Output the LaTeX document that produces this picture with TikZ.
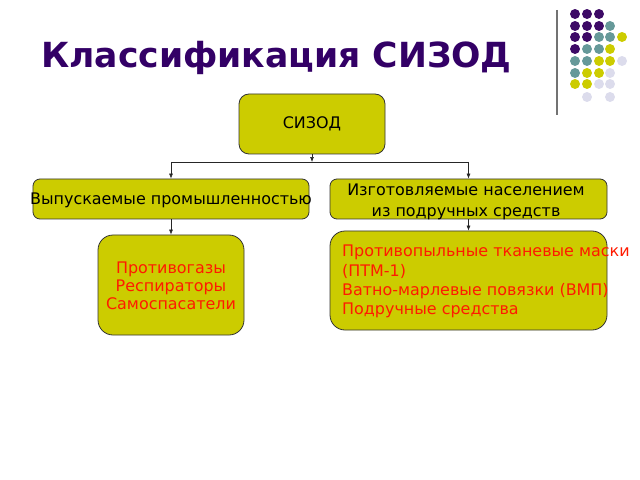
\documentclass[tikz,border=0pt]{standalone}
\usepackage{fontspec}
\setmainfont{DejaVu Sans}
\usetikzlibrary{arrows.meta}
\definecolor{ttl}{HTML}{330066}
\definecolor{boxy}{HTML}{CCCC00}
\definecolor{dpurple}{HTML}{3D0A66}
\definecolor{dteal}{HTML}{669999}
\definecolor{dyel}{HTML}{CCCC00}
\definecolor{dlav}{HTML}{DCDCEC}
\definecolor{redtxt}{HTML}{FF1A00}
\tikzset{
  box/.style={draw=black!80, line width=0.8pt, fill=boxy, inner sep=0pt},
  txt/.style={font=\fontsize{16}{19.3}\selectfont, inner sep=0pt},
  conn/.style={line width=0.6pt, draw=black!85, -{Latex[length=5pt,width=4pt]}},
  plain/.style={line width=0.6pt, draw=black!85},
  dot/.style={circle, minimum size=10pt, inner sep=0pt}
}
\begin{document}
\begin{tikzpicture}[x=1bp,y=-1bp]
\useasboundingbox (0,0) rectangle (640,480);
% title
\node[anchor=west, text=ttl, font=\bfseries\fontsize{34.7}{38}\selectfont, inner sep=0pt] (title) at (41,58) {Классификация СИЗОД};
% decoration
\draw[line width=1.2pt, draw=black!55] (557,10) coordinate (vl1) -- (557,115) coordinate (vl2);
\foreach \x/\y/\c [count=\i] in {
575/14/dpurple,587/14/dpurple,599/14/dpurple,
575/26/dpurple,587/26/dpurple,599/26/dpurple,610/26/dteal,
575/37/dpurple,587/37/dpurple,599/37/dteal,610/37/dteal,622/37/dyel,
575/49/dpurple,587/49/dteal,599/49/dteal,610/49/dyel,
575/61/dteal,587/61/dteal,599/61/dyel,610/61/dyel,622/61/dlav,
575/73/dteal,587/73/dyel,599/73/dyel,610/73/dlav,
575/84/dyel,587/84/dyel,599/84/dlav,610/84/dlav,
587/97/dlav,610/97/dlav}
  \node[dot, fill=\c] (d\i) at (\x,\y) {};
% boxes
\node[box, rounded corners=10bp, minimum width=146bp, minimum height=60bp] (root) at (312,124) {};
\node[txt] (roottxt) at (root.center) {СИЗОД};
\node[box, rounded corners=7bp, minimum width=276bp, minimum height=40bp] (ind) at (171,199) {};
\node[txt] (indtxt) at (171,200) {Выпускаемые промышленностью};
\node[box, rounded corners=7bp, minimum width=277bp, minimum height=40bp] (pop) at (468.5,199) {};
\node[txt, align=center, font=\fontsize{16}{21}\selectfont] (poptxt) at (466,202) {Изготовляемые населением\\из подручных средств};
\node[box, rounded corners=15bp, minimum width=146bp, minimum height=100bp] (gas) at (171,285) {};
\node[txt, align=center, text=redtxt, font=\fontsize{16}{18.2}\selectfont] (gastxt) at (171,286) {Противогазы\\Респираторы\\Самоспасатели};
\node[box, rounded corners=15bp, minimum width=277bp, minimum height=99bp] (mask) at (468.5,280.5) {};
\node[txt, align=left, text=redtxt, anchor=west] (masktxt) at (342,281.5) {Противопыльные тканевые маски\\(ПТМ-1)\\Ватно-марлевые повязки (ВМП)\\Подручные средства};
% connectors
\coordinate (j) at (root.south |- 0,162);
\coordinate (jl) at (ind.north |- j);
\coordinate (jr) at (pop.north |- j);
\draw[conn] (root.south) -- (j);
\draw[plain] (jl) -- (jr);
\draw[conn] (jl) -- (ind.north);
\draw[conn] (jr) -- (pop.north);
\draw[conn] (ind.south) -- (gas.north);
\draw[conn] (pop.south) -- (mask.north);
\end{tikzpicture}
\end{document}
